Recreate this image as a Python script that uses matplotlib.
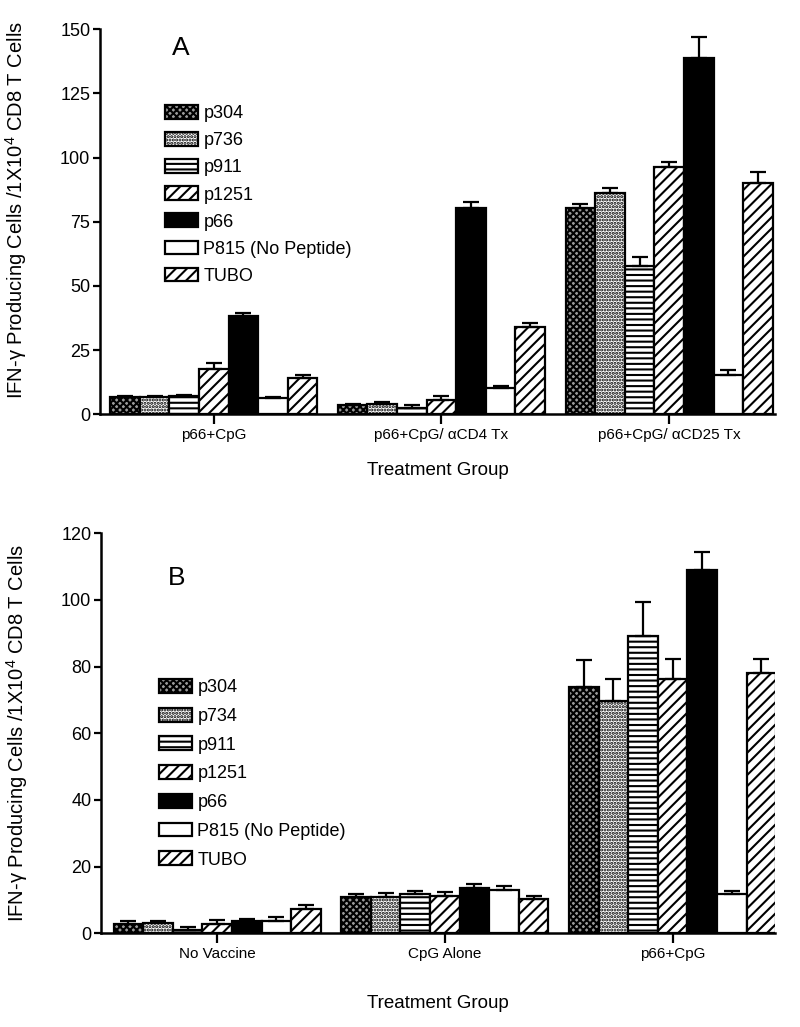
import numpy as np
import matplotlib
matplotlib.use("Agg")
import matplotlib.pyplot as plt

plt.rcParams['font.family'] = ['Liberation Sans', 'DejaVu Sans']
plt.rcParams['mathtext.default'] = 'regular'
plt.rcParams['hatch.linewidth'] = 1.5

# ---------------- Data ----------------
groups_A = ['p66+CpG', 'p66+CpG/ αCD4 Tx', 'p66+CpG/ αCD25 Tx']
series_A = ['p304', 'p736', 'p911', 'p1251', 'p66', 'P815 (No Peptide)', 'TUBO']
p304_A = [6.6, 3.6, 80.5]
p736_A = [6.8, 3.9, 86.3]
p911_A = [7.0, 2.6, 57.8]
p1251_A = [17.5, 5.6, 96.5]
p66_A = [38.3, 80.5, 139.0]
p815_A = [6.4, 10.3, 15.3]
tubo_A = [14.3, 34.0, 90.2]
p304_A_err = [0.5, 0.5, 1.3]
p736_A_err = [0.5, 0.8, 1.7]
p911_A_err = [0.6, 1.0, 3.5]
p1251_A_err = [2.6, 1.4, 1.7]
p66_A_err = [1.1, 2.2, 8.0]
p815_A_err = [0.5, 0.6, 1.8]
tubo_A_err = [1.0, 1.6, 4.3]

groups_B = ['No Vaccine', 'CpG Alone', 'p66+CpG']
series_B = ['p304', 'p734', 'p911', 'p1251', 'p66', 'P815 (No Peptide)', 'TUBO']
p304_B = [2.8, 10.8, 74.0]
p734_B = [3.1, 11.0, 69.7]
p911_B = [1.0, 11.7, 89.2]
p1251_B = [2.8, 11.3, 76.3]
p66_B = [3.8, 13.5, 109.0]
p815_B = [3.8, 13.0, 11.8]
tubo_B = [7.4, 10.3, 78.0]
p304_B_err = [0.8, 1.1, 8.0]
p734_B_err = [0.7, 1.1, 6.6]
p911_B_err = [0.8, 1.0, 10.1]
p1251_B_err = [1.1, 1.0, 6.1]
p66_B_err = [0.5, 1.3, 5.5]
p815_B_err = [1.2, 1.2, 0.9]
tubo_B_err = [1.0, 0.9, 4.2]

vals_A = [p304_A, p736_A, p911_A, p1251_A, p66_A, p815_A, tubo_A]
errs_A = [p304_A_err, p736_A_err, p911_A_err, p1251_A_err, p66_A_err, p815_A_err, tubo_A_err]
vals_B = [p304_B, p734_B, p911_B, p1251_B, p66_B, p815_B, tubo_B]
errs_B = [p304_B_err, p734_B_err, p911_B_err, p1251_B_err, p66_B_err, p815_B_err, tubo_B_err]

# styles: (facecolor, hatch)
styles = [('#9a9a9a', 'xxxxx'), ('white', '.....'), ('white', '---'), ('white', '///'),
          ('black', None), ('white', None), ('white', '///')]

W, H = 800, 1027
fig = plt.figure(figsize=(W / 100, H / 100), dpi=100)

def fig_rect(l, t, r, b):
    return [l / W, 1 - b / H, (r - l) / W, (b - t) / H]

axA = fig.add_axes(fig_rect(100, 29.3, 775, 414.3))
axB = fig.add_axes(fig_rect(101, 533.3, 775, 933.3))

bw = 0.13

def draw(ax, groups, series, vals, errs, ymax, ystep, xlim, letter, letter_xy,
         leg_xy, leg_spacing, ylab_y, xlab_pad):
    x = np.arange(len(groups))
    for i, (name, v, e) in enumerate(zip(series, vals, errs)):
        fc, hatch = styles[i]
        pos = x + (i - 3) * bw
        ax.bar(pos, v, width=bw, facecolor=fc, edgecolor='black', hatch=hatch,
               linewidth=1.6, label=name, zorder=2)
        ax.errorbar(pos, v, yerr=[np.zeros(len(v)), e], fmt='none', ecolor='black',
                    elinewidth=1.6, capsize=6, capthick=1.6, zorder=3)
    ax.set_xlim(*xlim)
    ax.set_ylim(0, ymax)
    ax.set_yticks(np.arange(0, ymax + 0.1, ystep))
    ax.set_xticks(x)
    ax.set_xticklabels(groups, fontsize=11)
    ax.tick_params(axis='y', labelsize=13, length=5, width=1.6, direction='out', pad=2)
    ax.tick_params(axis='x', length=7, width=1.6, direction='out', pad=3)
    for s in ['top', 'right']:
        ax.spines[s].set_visible(False)
    for s in ['left', 'bottom']:
        ax.spines[s].set_linewidth(1.8)
    ax.set_xlabel('Treatment Group', fontsize=13.5, labelpad=xlab_pad)
    ax.set_ylabel('IFN-γ Producing Cells /1X10$^4$ CD8 T Cells', fontsize=14.5)
    ax.yaxis.set_label_coords(-0.105, ylab_y)
    fig.text(letter_xy[0] / W, 1 - letter_xy[1] / H, letter, fontsize=19,
             ha='left', va='center')
    ax.legend(loc='upper left', bbox_to_anchor=(leg_xy[0] / W, 1 - leg_xy[1] / H),
              bbox_transform=fig.transFigure, frameon=False, fontsize=13,
              handlelength=1.8, handleheight=0.8, handletextpad=0.33,
              labelspacing=leg_spacing, borderpad=0, borderaxespad=0)

draw(axA, groups_A, series_A, vals_A, errs_A, 150, 25, (-0.5, 2.465), 'A', (172, 48),
     (165, 105), 0.55, 0.53, 14)
draw(axB, groups_B, series_B, vals_B, errs_B, 120, 20, (-0.51, 2.45), 'B', (168, 578),
     (159, 679), 0.64, 0.50, 24)

fig.savefig('out.png', dpi=100)
